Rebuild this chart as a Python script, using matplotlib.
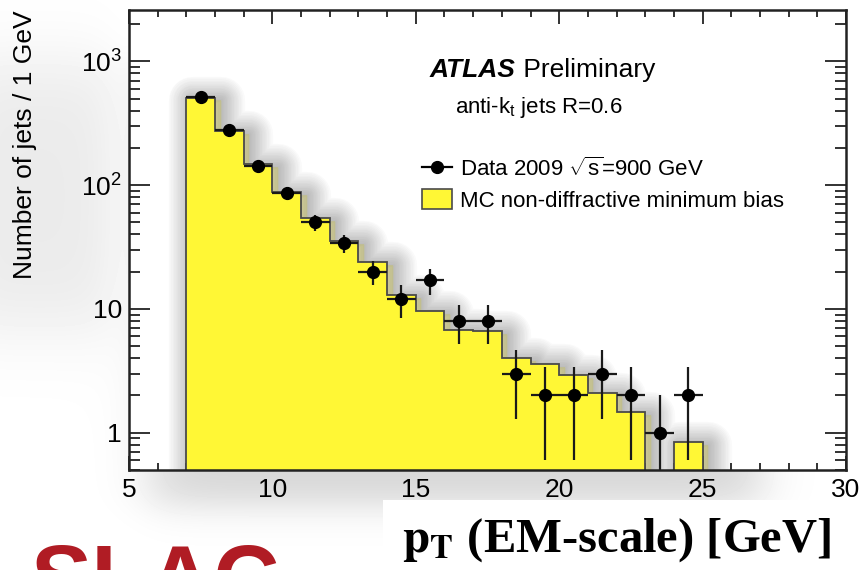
import numpy as np
import matplotlib
matplotlib.use("Agg")
import matplotlib.pyplot as plt
from matplotlib import patheffects as pe
from matplotlib.lines import Line2D
from matplotlib.patches import Patch, Rectangle
from matplotlib.ticker import FixedLocator, FixedFormatter, MultipleLocator, LogLocator, NullFormatter

plt.rcParams['font.family'] = ['Liberation Sans', 'DejaVu Sans']
plt.rcParams['mathtext.fontset'] = 'custom'
plt.rcParams['mathtext.rm'] = 'Liberation Sans'
plt.rcParams['mathtext.it'] = 'Liberation Sans:italic'
plt.rcParams['mathtext.bf'] = 'Liberation Sans:bold'

# ---------------- data ----------------
bin_edges = [7, 8, 9, 10, 11, 12, 13, 14, 15, 16, 17, 18, 19, 20, 21, 22, 23, 24, 25]
mc_values = [510, 275, 147, 88, 54, 35.5, 23.8, 13, 9.6, 6.8, 6.6, 4.0, 3.6, 2.93, 2.09, 1.47, 0, 0.835]

data_x = [7.5, 8.5, 9.5, 10.5, 11.5, 12.5, 13.5, 14.5, 15.5, 16.5, 17.5, 18.5, 19.5, 20.5, 21.5, 22.5, 23.5, 24.5]
data_y = [520, 278, 143, 86, 50, 34, 20, 12, 17, 8, 8, 3, 2, 2, 3, 2, 1, 2]
data_err = [22.8, 16.7, 12.0, 9.3, 7.1, 5.8, 4.5, 3.5, 4.1, 2.8, 2.8, 1.7, 1.4, 1.4, 1.7, 1.4, 1.0, 1.4]
data_xerr = [0.5] * 18

x_ticks = [5, 10, 15, 20, 25, 30]
x_ticklabels = ['5', '10', '15', '20', '25', '30']
y_ticks = [1, 10, 100, 1000]
y_ticklabels = ['1', '10', r'$10^{2}$', r'$10^{3}$']

title_bold = 'ATLAS'
title_rest = ' Preliminary'
subtitle = r'anti-k$_{\mathrm{t}}$ jets R=0.6'
legend_data = r'Data 2009 $\sqrt{\mathrm{s}}$=900 GeV'
legend_mc = 'MC non-diffractive minimum bias'
ylabel = 'Number of jets / 1 GeV'
xlabel = r'$\mathbf{p_T}$ (EM-scale) [GeV]'
logo = 'SLAC'

# ---------------- figure ----------------
W, H = 859, 570
fig = plt.figure(figsize=(W / 100, H / 100), dpi=100)
fig.patch.set_facecolor('white')
L, R, T, B = 129, 846, 10, 470

# soft slide shadow behind the plot (decoration)
bg = fig.add_axes([0, 0, 1, 1], zorder=-10)
bg.set_axis_off()
yy, xx = np.mgrid[0:H, 0:W]
def soft(v, a, b, s):
    return 0.5 * (np.tanh((v - a) / s) - np.tanh((v - b) / s))
shade = soft(xx, 150, 760, 30) * soft(yy, 60, 505, 22)
shade += 0.5 * soft(xx, -40, 110, 25) * soft(yy, 60, 330, 45)
img = np.clip(1 - 0.16 * shade, 0, 1)
bg.imshow(img, cmap='gray', vmin=0, vmax=1, extent=(0, W, H, 0), aspect='auto',
          interpolation='bilinear')
bg.set_xlim(0, W)
bg.set_ylim(H, 0)
bg.add_patch(Rectangle((383, 500), W - 383, H - 500, facecolor='white', edgecolor='none'))

ax = fig.add_axes([L / W, 1 - B / H, (R - L) / W, (B - T) / H])
ax.set_yscale('log')
ax.set_xlim(5, 30)
ax.set_ylim(0.5, 2600)

baseline = 1e-3
mc_plot = np.where(np.array(mc_values) > 0, mc_values, baseline)
glow = []
for lw in range(34, 0, -2):
    glow.append(pe.Stroke(linewidth=lw, foreground='#303030', alpha=0.018,
                          offset=(4, -2), joinstyle='round'))
glow.append(pe.Normal())
st = ax.stairs(mc_plot, bin_edges, baseline=baseline, fill=True,
               facecolor='#fff735', edgecolor='#4a4a4a', linewidth=1.3, zorder=2)
st.set_path_effects(glow)

ax.errorbar(data_x, data_y, yerr=data_err, xerr=data_xerr, fmt='o', color='black',
            markersize=8.5, ecolor='#1a1a1a', elinewidth=1.6, capsize=0, zorder=3)

# axes styling (ROOT-like)
for s in ax.spines.values():
    s.set_linewidth(1.8)
    s.set_color('#222222')
    s.set_zorder(5)
ax.xaxis.set_major_locator(FixedLocator(x_ticks))
ax.xaxis.set_major_formatter(FixedFormatter(x_ticklabels))
ax.xaxis.set_minor_locator(MultipleLocator(1))
ax.yaxis.set_major_locator(FixedLocator(y_ticks))
ax.yaxis.set_major_formatter(FixedFormatter(y_ticklabels))
ax.yaxis.set_minor_locator(LogLocator(base=10, subs=np.arange(2, 10)))
ax.yaxis.set_minor_formatter(NullFormatter())
ax.tick_params(axis='both', which='both', direction='in', top=True, right=True, color='#222222')
ax.tick_params(axis='x', which='major', length=10, width=1.3, pad=6, labelsize=19)
ax.tick_params(axis='x', which='minor', length=5, width=1.3)
ax.tick_params(axis='y', which='major', length=15, width=1.3, pad=5, labelsize=19)
ax.tick_params(axis='y', which='minor', length=8, width=1.3)

# texts
t1 = ax.text((430 - L) / (R - L), (B - 70) / (B - T), title_bold, transform=ax.transAxes,
             fontsize=19, fontweight='bold', fontstyle='italic', va='center', ha='left')
ax.annotate(title_rest, xy=(1, 0), xycoords=t1, va='bottom', ha='left', fontsize=19)
ax.text((455 - L) / (R - L), (B - 108) / (B - T), subtitle, transform=ax.transAxes,
        fontsize=16, va='center', ha='left')

h_data = Line2D([], [], color='black', marker='o', markersize=8.5, linewidth=1.6)
h_mc = Patch(facecolor='#fff735', edgecolor='#4a4a4a', linewidth=1.2)
leg = ax.legend([h_data, h_mc], [legend_data, legend_mc], loc='upper left',
                bbox_to_anchor=((422 - L) / (R - L), (B - 157) / (B - T)),
                frameon=False, fontsize=16, handlelength=1.35, handleheight=1.0,
                handletextpad=0.35, labelspacing=0.4, borderpad=0, borderaxespad=0)

fig.text(25 / W, 1 - 10 / H, ylabel, rotation=90, ha='center', va='top', fontsize=19)

fig.text(402 / W, 1 - 540 / H, xlabel, ha='left', va='center', fontsize=35,
         fontfamily='Liberation Serif', fontweight='bold', math_fontfamily='stix')
fig.text(30 / W, 1 - 543 / H, logo, ha='left', va='top', fontsize=66,
         fontweight='bold', color='#b01c24')

fig.savefig('out.png', dpi=100)
